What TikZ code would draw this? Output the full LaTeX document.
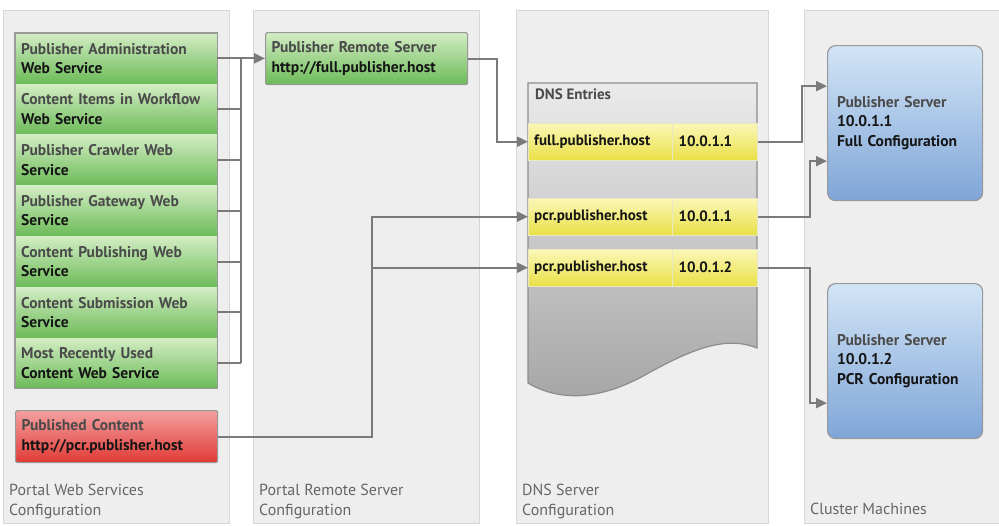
\documentclass[tikz,border=0pt]{standalone}
\usepackage{fontspec}
\setmainfont{PT Sans}
\usetikzlibrary{arrows.meta}

\definecolor{panelbg}{HTML}{EEEEEE}
\definecolor{panelline}{HTML}{D6D6D6}
\definecolor{greentop}{HTML}{D3EDC4}
\definecolor{greenbot}{HTML}{6CBB58}
\definecolor{redtop}{HTML}{F4A0A0}
\definecolor{redbot}{HTML}{E03A35}
\definecolor{yeltop}{HTML}{FBF7B8}
\definecolor{yelbot}{HTML}{E9E046}
\definecolor{bluetop}{HTML}{D2E5F6}
\definecolor{bluebot}{HTML}{7FA5D7}
\definecolor{connline}{HTML}{7A7A7A}
\definecolor{txtgrey}{HTML}{4A4A4A}
\definecolor{txtdark}{HTML}{151515}
\definecolor{labelgrey}{HTML}{666666}

\newcommand{\lt}[1]{{\color{txtgrey}#1}}

\begin{document}
\begin{tikzpicture}[x=1pt,y=-1pt,
  panel/.style={draw=panelline,fill=panelbg,line width=1pt},
  paneltitle/.style={anchor=north west,align=left,inner sep=0pt,text=labelgrey,
    font=\fontsize{16}{20}\selectfont},
  boxtext/.style={anchor=north west,align=left,inner sep=6pt,text=txtdark,
    font=\fontsize{15.5}{19.5}\selectfont\bfseries},
  svcrow/.style={boxtext,minimum width=202pt,minimum height=50.4pt,text width=190pt,
    top color=greentop,bottom color=greenbot},
  redbox/.style={boxtext,minimum width=202pt,minimum height=52pt,text width=190pt,
    top color=redtop,bottom color=redbot,draw=black!40,line width=1.2pt,rounded corners=2pt},
  cell/.style={anchor=north west,align=left,inner sep=6pt,minimum height=37pt,text=txtdark,
    top color=yeltop,bottom color=yelbot,draw=yelbot!80!black!30,
    font=\fontsize{15}{17}\selectfont\bfseries},
  srvbox/.style={boxtext,minimum width=155pt,minimum height=155pt,text width=136pt,
    inner sep=9pt,top color=bluetop,bottom color=bluebot,draw=black!40,line width=1.2pt,
    rounded corners=8pt},
  conn/.style={draw=connline,line width=2pt},
  arrowconn/.style={conn,-{Triangle[length=11pt,width=10pt]}}
]
\useasboundingbox (0,0) rectangle (999,525);
\fill[white] (0,0) rectangle (999,525);

% columns
\draw[panel] (3,10) rectangle (229,523);
\draw[panel] (253,10) rectangle (479,523);
\draw[panel] (516,10) rectangle (768,523);
\draw[panel] (804,10) rectangle (1003,523);

\node[paneltitle] (titleA) at (9,484) {Portal Web Services\\Configuration};
\node[paneltitle] (titleB) at (259,484) {Portal Remote Server\\Configuration};
\node[paneltitle] (titleC) at (522,484) {DNS Server\\Configuration};
\node[paneltitle] (titleD) at (810,503) {Cluster Machines};

% web services
\node[svcrow] (svcA) at (15,33) {\lt{Publisher Administration}\\Web Service};
\node[svcrow] (svcB) at (svcA.south west) {\lt{Content Items in Workflow}\\Web Service};
\node[svcrow] (svcC) at (svcB.south west) {\lt{Publisher Crawler Web}\\Service};
\node[svcrow] (svcD) at (svcC.south west) {\lt{Publisher Gateway Web}\\Service};
\node[svcrow] (svcE) at (svcD.south west) {\lt{Content Publishing Web}\\Service};
\node[svcrow] (svcF) at (svcE.south west) {\lt{Content Submission Web}\\Service};
\node[svcrow] (svcG) at (svcF.south west) {\lt{Most Recently Used}\\Content Web Service};
\draw[black!40,line width=1.2pt] (svcA.north west) rectangle (svcG.south east);

\node[redbox] (pubcontent) at (15,410) {\lt{Published Content}\\http://pcr.publisher.host};

% remote server
\node[svcrow,minimum height=52pt,draw=black!40,line width=1.2pt,rounded corners=2pt]
  (remote) at (265,32) {\lt{Publisher Remote Server}\\http://full.publisher.host};

% dns
\draw[draw=black!45,line width=1.2pt,top color=black!8,bottom color=black!35]
  (528,83) -- (757,83) -- (757,348)
  .. controls (725,335) and (690,350) .. (645,375)
  .. controls (600,400) and (560,402) .. (528,383) -- cycle;
\node[anchor=north west,inner sep=0pt,text=txtgrey,font=\fontsize{15}{17}\selectfont\bfseries]
  (dnslabel) at (535,89) {DNS Entries};

\node[cell,text width=132pt] (hostA) at (528,123) {full.publisher.host};
\node[cell,text width=73pt] (ipA) at (hostA.north east) {10.0.1.1};
\node[cell,text width=132pt] (hostB) at (528,198) {pcr.publisher.host};
\node[cell,text width=73pt] (ipB) at (hostB.north east) {10.0.1.1};
\node[cell,text width=132pt] (hostC) at (528,249) {pcr.publisher.host};
\node[cell,text width=73pt] (ipC) at (hostC.north east) {10.0.1.2};

% cluster
\node[srvbox] (srvA) at (827,45) {\lt{Publisher Server}\\10.0.1.1\\Full Configuration};
\node[srvbox] (srvB) at (827,283) {\lt{Publisher Server}\\10.0.1.2\\PCR Configuration};

% connectors
\coordinate (bus) at (241,0);
\coordinate (jogA) at (497,0);
\coordinate (pcrbus) at (372,0);
\coordinate (jogB) at (802,0);
\coordinate (jogC) at (810,0);

\draw[arrowconn] (svcA.east) -- (svcA.east -| remote.west);
\foreach \r in {B,C,D,E,F,G}
  \draw[conn] (svc\r.east) -- (svc\r.east -| bus);
\draw[conn] (svcG.east -| bus) -- (svcA.east -| bus);

\draw[arrowconn] (remote.east) -- (remote.east -| jogA) |- (hostA.west);
\draw[arrowconn] (pubcontent.east) -| (pcrbus |- hostB.west) -- (hostB.west);
\draw[arrowconn] (pcrbus |- hostC.west) -- (hostC.west);

\draw[arrowconn] (ipA.east) -- (ipA.east -| jogB) |- ([yshift=37pt]srvA.west);
\draw[arrowconn] (ipB.east) -- (ipB.east -| jogC) |- ([yshift=-38pt]srvA.west);
\draw[arrowconn] (ipC.east) -- (ipC.east -| jogC) |- ([yshift=-42pt]srvB.west);
\end{tikzpicture}
\end{document}
